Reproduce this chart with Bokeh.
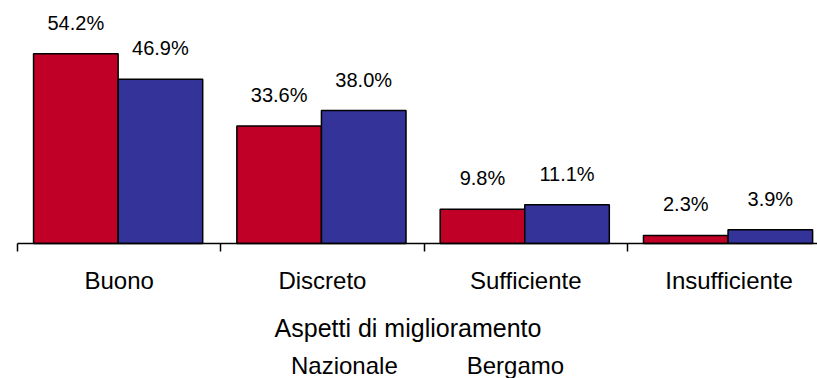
from bokeh.plotting import figure
from bokeh.models import (Range1d, FixedTicker, Legend, LegendItem, ColumnDataSource,
                          LinearAxis)
from bokeh.core.properties import value
from bokeh.embed import file_html
from bokeh.resources import INLINE

categories = ["Buono", "Discreto", "Sufficiente", "Insufficiente"]
series_names = ["Nazionale", "Bergamo"]
nazionale = [54.2, 33.6, 9.8, 2.3]
bergamo = [46.9, 38.0, 11.1, 3.9]
axis_title = "Aspetti di miglioramento"

RED = "#C00027"
BLUE = "#333399"
FONT = "Liberation Sans"

idx = list(range(len(categories)))
bar_w = 0.416
off_n, off_b = 0.287, 0.703

src_n = ColumnDataSource(dict(x=[i + off_n for i in idx], top=nazionale,
                              label=[f"{v:.1f}%" for v in nazionale]))
src_b = ColumnDataSource(dict(x=[i + off_b for i in idx], top=bergamo,
                              label=[f"{v:.1f}%" for v in bergamo]))

x_start, x_end = -0.0836, 3.935
p = figure(width=817, height=378, output_backend="svg", toolbar_location=None,
           x_range=Range1d(x_start, x_end), y_range=Range1d(-38.57, 69.43),
           y_axis_location=None,
           min_border_left=0, min_border_right=0, min_border_top=0, min_border_bottom=0)
p.outline_line_color = None
p.xgrid.visible = False
p.ygrid.visible = False

p.vbar(x="x", top="top", width=bar_w, source=src_n, fill_color=RED,
       line_color="black", line_width=1.5)
p.vbar(x="x", top="top", width=bar_w, source=src_b, fill_color=BLUE,
       line_color="black", line_width=1.5)

for src in (src_n, src_b):
    p.text(x="x", y="top", text="label", source=src, text_align="center",
           text_baseline="alphabetic", y_offset=-31,
           text_font=value(FONT), text_font_size="20px", text_color="black")

# invisible renderers for a marker-less legend
leg_n = p.vbar(x="x", top="top", width=bar_w, source=src_n, fill_alpha=0, line_alpha=0)
leg_b = p.vbar(x="x", top="top", width=bar_w, source=src_b, fill_alpha=0, line_alpha=0)

ax = p.xaxis[0]
ax.fixed_location = 0
ax.bounds = (0, x_end)
ax.ticker = FixedTicker(ticks=[i + 0.5 for i in idx], minor_ticks=idx)
ax.major_label_overrides = {i + 0.5: c for i, c in zip(idx, categories)}
ax.major_tick_out = 0
ax.major_tick_in = 0
ax.minor_tick_out = 8
ax.minor_tick_in = 0
ax.minor_tick_line_color = "black"
ax.minor_tick_line_width = 1.5
ax.axis_line_color = "black"
ax.axis_line_width = 1.5
ax.major_label_text_font = FONT
ax.major_label_text_font_size = "24px"
ax.major_label_text_color = "black"
ax.major_label_standoff = 15

# axis title, centred on the whole chart width as in the reference
title_axis = LinearAxis(fixed_location=0, bounds=(x_start, 3.925),
                        ticker=FixedTicker(ticks=[], minor_ticks=[]),
                        axis_line_alpha=0, major_tick_out=0, major_tick_in=0,
                        minor_tick_out=0, minor_tick_in=0, major_label_standoff=0,
                        axis_label=axis_title, axis_label_standoff=70,
                        axis_label_text_font=FONT, axis_label_text_font_size="25px",
                        axis_label_text_font_style="normal",
                        axis_label_text_color="black")
p.add_layout(title_axis, "below")

legend = Legend(items=[LegendItem(label=series_names[0], renderers=[leg_n]),
                       LegendItem(label=series_names[1], renderers=[leg_b])],
                orientation="horizontal", location=(263, -2),
                label_text_font=FONT, label_text_font_size="24px",
                label_text_color="black",
                glyph_width=20, glyph_height=16, label_height=16,
                label_standoff=8, spacing=41, padding=0, margin=0,
                border_line_alpha=0, background_fill_alpha=0)
p.add_layout(legend, "center")

open("out.html", "w").write(file_html(p, INLINE))
